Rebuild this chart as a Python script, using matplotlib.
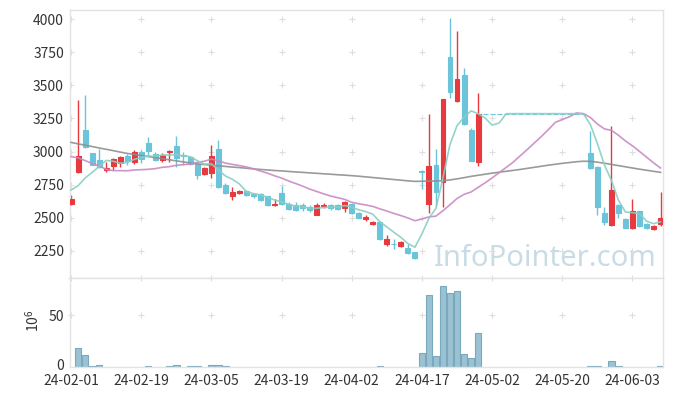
import matplotlib
matplotlib.use("Agg")
import matplotlib.pyplot as plt
import matplotlib.transforms as mtransforms
import numpy as np

plt.rcParams['font.family'] = ['Noto Sans CJK KR', 'DejaVu Sans']

# trading-day ticks (every 10 sessions)
tick_pos = [0, 10, 20, 30, 40, 50, 60, 70, 80]
tick_labels = ['24-02-01', '24-02-19', '24-03-05', '24-03-19', '24-04-02',
               '24-04-17', '24-05-02', '24-05-20', '24-06-03']

# daily prices (halted days 59-73 kept at the last close)
opens = [2602, 2846, 3160, 2987, 2940, 2860, 2890, 2917, 2970, 2920,
         3000, 3066, 2983, 2940, 2995, 3045, 2975, 2960, 2903, 2830,
         2838, 3016, 2750, 2664, 2684, 2705, 2680, 2680, 2663, 2593,
         2689, 2608, 2598, 2600, 2583, 2525, 2587, 2598, 2598, 2573,
         2608, 2540, 2490, 2452, 2472, 2305, 2306, 2288, 2275, 2240,
         2855, 2604, 2901, 2767, 3714, 3381, 3576, 3159, 2919, 3286,
         3286, 3286, 3286, 3286, 3286, 3286, 3286, 3286, 3286, 3286,
         3286, 3286, 3286, 3286,
         2990, 2885, 2540, 2445, 2593, 2490, 2420, 2550, 2457, 2412, 2450]
closes = [2645, 2970, 3033, 2902, 2886, 2875, 2945, 2957, 2932, 3000,
          2945, 3003, 2940, 2975, 3005, 2952, 2970, 2905, 2822, 2878,
          2964, 2730, 2684, 2692, 2705, 2672, 2661, 2634, 2598, 2608,
          2604, 2568, 2560, 2575, 2558, 2598, 2600, 2575, 2570, 2621,
          2533, 2502, 2507, 2472, 2338, 2338, 2300, 2318, 2237, 2195,
          2845, 2889, 2692, 3394, 3449, 3551, 3210, 2932, 3286, 3286,
          3286, 3286, 3286, 3286, 3286, 3286, 3286, 3286, 3286, 3286,
          3286, 3286, 3286, 3286,
          2873, 2578, 2470, 2709, 2537, 2427, 2550, 2437, 2425, 2442, 2497]
highs = [2672, 3392, 3425, 2990, 3020, 2920, 2955, 2965, 2983, 3010,
         3015, 3108, 2995, 2990, 3010, 3115, 3000, 2965, 2910, 2885,
         3050, 3090, 2760, 2730, 2712, 2712, 2690, 2685, 2666, 2640,
         2742, 2620, 2620, 2610, 2595, 2615, 2612, 2605, 2605, 2628,
         2612, 2545, 2520, 2478, 2475, 2371, 2340, 2325, 2300, 2243,
         2860, 3286, 3020, 3400, 4005, 3911, 3627, 3180, 3445, 3286,
         3286, 3286, 3286, 3286, 3286, 3286, 3286, 3286, 3286, 3286,
         3286, 3286, 3286, 3286,
         3157, 2890, 2578, 3195, 2603, 2495, 2645, 2555, 2462, 2448, 2692]
lows = [2598, 2840, 3025, 2895, 2875, 2848, 2862, 2885, 2895, 2905,
        2915, 2970, 2925, 2920, 2920, 2885, 2900, 2895, 2792, 2822,
        2800, 2725, 2680, 2634, 2680, 2668, 2650, 2625, 2590, 2590,
        2600, 2557, 2550, 2555, 2545, 2520, 2575, 2560, 2560, 2545,
        2530, 2500, 2478, 2448, 2335, 2288, 2262, 2280, 2225, 2190,
        2718, 2540, 2591, 2578, 3407, 3375, 3200, 2925, 2894, 3286,
        3286, 3286, 3286, 3286, 3286, 3286, 3286, 3286, 3286, 3286,
        3286, 3286, 3286, 3286,
        2870, 2520, 2445, 2440, 2495, 2425, 2415, 2432, 2417, 2408, 2440]

# moving averages
ma5 = [2710, 2742, 2800, 2843, 2887, 2933, 2927, 2912, 2918, 2941,
       2955, 2967, 2964, 2973, 2974, 2975, 2968, 2961, 2931, 2905,
       2908, 2860, 2816, 2790, 2755, 2697, 2683, 2673, 2654, 2635,
       2621, 2602, 2588, 2583, 2573, 2572, 2578, 2581, 2580, 2593,
       2580, 2560, 2547, 2527, 2470, 2431, 2391, 2353, 2306, 2278,
       2379, 2497, 2572, 2803, 3054, 3195, 3259, 3307, 3286, 3253,
       3200, 3215, 3286, 3286, 3286, 3286, 3286, 3286, 3286, 3286,
       3286, 3286, 3286, 3286,
       3203, 3061, 2899, 2783, 2633, 2544, 2539, 2532, 2475, 2456, 2470]
ma20 = [2962, 2952, 2932, 2910, 2891, 2866, 2856, 2856, 2855, 2861,
        2863, 2866, 2871, 2881, 2886, 2896, 2901, 2906, 2919, 2927,
        2943, 2931, 2913, 2903, 2894, 2884, 2870, 2853, 2837, 2817,
        2800, 2778, 2759, 2739, 2717, 2699, 2681, 2664, 2652, 2639,
        2617, 2606, 2597, 2586, 2568, 2551, 2533, 2517, 2499, 2478,
        2491, 2507, 2513, 2554, 2599, 2646, 2677, 2695, 2730, 2764,
        2801, 2841, 2880, 2920, 2968, 3015, 3064, 3113, 3165, 3220,
        3242, 3262, 3291, 3286,
        3257, 3208, 3171, 3160, 3123, 3080, 3043, 3001, 2958, 2915, 2876]
ma60 = [3069, 3058, 3048, 3038, 3027, 3017, 3007, 2996, 2986, 2978,
        2970, 2962, 2954, 2946, 2938, 2930, 2922, 2914, 2907, 2902,
        2897, 2892, 2888, 2883, 2879, 2874, 2869, 2865, 2861, 2857,
        2854, 2850, 2846, 2843, 2839, 2836, 2832, 2829, 2825, 2822,
        2818, 2814, 2809, 2804, 2799, 2794, 2789, 2784, 2779, 2775,
        2776, 2777, 2778, 2780, 2786, 2794, 2803, 2813, 2821, 2829,
        2837, 2844, 2851, 2858, 2865, 2873, 2881, 2889, 2897, 2904,
        2911, 2917, 2923, 2927,
        2926, 2920, 2912, 2903, 2894, 2885, 2876, 2867, 2859, 2851, 2843]

# volume in millions of shares
volume = [0, 17.8, 11, 0.6, 1.6, 0, 0, 0, 0, 0,
          0, 0.6, 0, 0, 0.6, 1.5, 0, 0.6, 0.6, 0,
          1.5, 1.5, 0.6, 0, 0, 0, 0, 0, 0, 0,
          0, 0, 0, 0, 0, 0, 0, 0, 0, 0,
          0, 0, 0, 0, 0.6, 0, 0, 0, 0, 0,
          13, 69.3, 10.3, 78, 71, 73.2, 12, 8.1, 32.3, 0,
          0, 0, 0, 0, 0, 0, 0, 0, 0, 0,
          0, 0, 0, 0,
          0.6, 0.6, 0, 5.5, 0.5, 0, 0, 0, 0, 0, 0.6]

RED = '#e8393e'
BLUE = '#6cc4da'
o = np.array(opens, float)
c = np.array(closes, float)
h = np.array(highs, float)
l = np.array(lows, float)
v = np.array(volume, float)
x = np.arange(len(c))

fig = plt.figure(figsize=(6.73, 3.96), dpi=100)
left = 69.5 / 673
width = (663 - 69.5) / 673
ax = fig.add_axes([left, 1 - 278 / 396, width, 268 / 396])
axv = fig.add_axes([left, 1 - 366.7 / 396, width, 88.7 / 396], sharex=ax)

cols = np.where(c > o, RED, BLUE)
ax.vlines(x, l, h, colors=cols, lw=1, zorder=2)
ax.bar(x, np.abs(c - o), bottom=np.minimum(o, c), width=0.7,
       color=cols, edgecolor=cols, linewidth=0.8, zorder=3)

ax.plot(x, ma60, color='#8f8f8f', lw=1.2, alpha=0.9, zorder=4)
ax.plot(x, ma20, color='#c98ac3', lw=1.2, alpha=0.9, zorder=4)
ax.plot(x, ma5, color='#88cfc3', lw=1.2, alpha=0.9, zorder=4)

mask = v > 0
axv.bar(x[mask], v[mask], width=0.92, color='#9bc2d2',
        edgecolor='#7aa9bd', linewidth=0.8)

ax.set_xlim(-0.22, 84.35)
ax.set_ylim(2046, 4068)
axv.set_ylim(0, 85.8)

yt = [2250, 2500, 2750, 3000, 3250, 3500, 3750, 4000]
ax.set_yticks(yt)
axv.set_yticks([0, 50])
axv.set_xticks(tick_pos)
axv.set_xticklabels(tick_labels)
ax.tick_params(axis='x', labelbottom=False, length=0)
ax.tick_params(axis='y', length=0, labelsize=10, colors='#333333', pad=4)
axv.tick_params(axis='y', length=0, labelsize=10, colors='#333333', pad=4)
axv.tick_params(axis='x', length=0, labelsize=10, colors='#333333', pad=5)
# nudge the "0" label up a touch so it clears the first date label
zero_lbl = axv.get_yticklabels()[0]
zero_lbl.set_transform(zero_lbl.get_transform() +
                       mtransforms.ScaledTranslation(0, 1.5 / 72, fig.dpi_scale_trans))

for a in (ax, axv):
    for s in a.spines.values():
        s.set_color('#e3e3e3')
        s.set_linewidth(1)

# light "+" markers where grid lines would cross
gx, gy = np.meshgrid(tick_pos, yt)
ax.plot(gx.ravel(), gy.ravel(), ls='none', marker='+', ms=5, mew=0.8,
        color='#dedede', zorder=1)
gx, gy = np.meshgrid(tick_pos, [50, 85.8])
axv.plot(gx.ravel(), gy.ravel(), ls='none', marker='+', ms=5, mew=0.8,
         color='#dedede', zorder=1, clip_on=False)

fig.text(33 / 673, 1 - 321 / 396, r'$\mathregular{10^6}$', rotation=90,
         ha='center', va='center', fontsize=10, color='#333333')

ax.text(0.99, 0.045, 'InfoPointer.com', transform=ax.transAxes,
        ha='right', va='baseline', fontsize=21, color='#c9dce6',
        family=['Noto Sans', 'DejaVu Sans'], zorder=0)

fig.savefig('out.png', dpi=100)
